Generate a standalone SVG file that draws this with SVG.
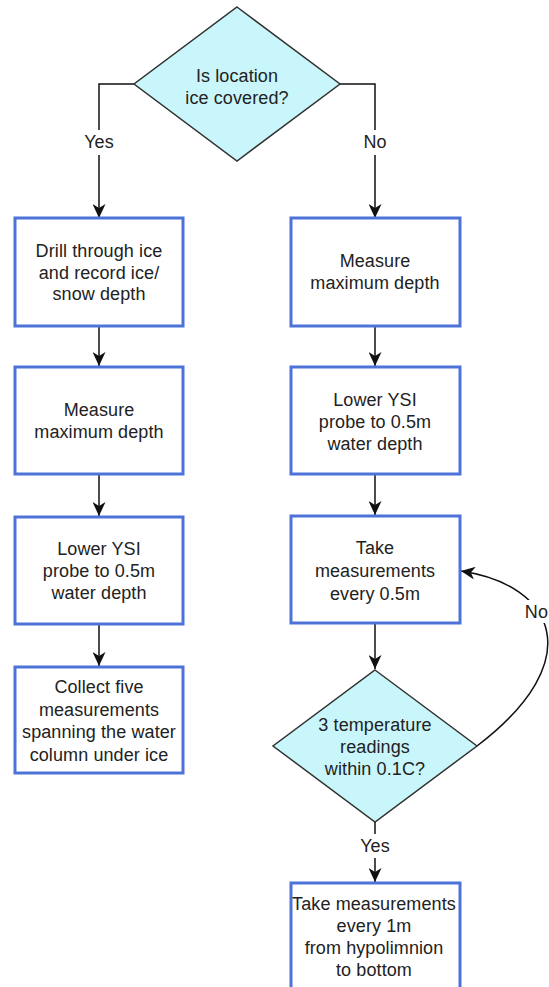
<svg xmlns="http://www.w3.org/2000/svg" width="549" height="987" viewBox="0 0 549 987">
<style>
.box{fill:#ffffff;stroke:#4d72d8;stroke-width:3}
.dec{fill:#c9f6fb;stroke:#333333;stroke-width:1.5}
.t{font-family:"Liberation Sans",Arial,sans-serif;font-size:18px;fill:#222222;text-anchor:middle;letter-spacing:0.1px}
.c{fill:none;stroke:#111111;stroke-width:1.5}
.lb{fill:#ffffff}
</style>
<defs>
<marker id="ah" viewBox="0 0 14 13" refX="14" refY="6.5" markerWidth="14" markerHeight="13" markerUnits="userSpaceOnUse" orient="auto">
<path d="M0,0 L14,6.5 L0,13 L4,6.5 z" fill="#111111"/>
</marker>
</defs>
<rect width="549" height="987" fill="#ffffff"/>
<g id="connectors">
<path class="c" d="M134,84 H99 V218" marker-end="url(#ah)"/>
<path class="c" d="M340,84 H375 V218" marker-end="url(#ah)"/>
<path class="c" d="M99,326 V366" marker-end="url(#ah)"/>
<path class="c" d="M99,474 V516" marker-end="url(#ah)"/>
<path class="c" d="M99,624 V666" marker-end="url(#ah)"/>
<path class="c" d="M375,326 V366" marker-end="url(#ah)"/>
<path class="c" d="M375,474 V515" marker-end="url(#ah)"/>
<path class="c" d="M375,623 V669" marker-end="url(#ah)"/>
<path class="c" d="M375,822 V882" marker-end="url(#ah)"/>
<path class="c" d="M477,746 C590,660 555,585 461,571" marker-end="url(#ah)"/>
<rect class="lb" x="81" y="130" width="36" height="25"/>
<text class="t" x="99" y="148">Yes</text>
<rect class="lb" x="361" y="130" width="28" height="25"/>
<text class="t" x="375" y="148">No</text>
<rect class="lb" x="357" y="834" width="36" height="24"/>
<text class="t" x="375" y="852">Yes</text>
<rect class="lb" x="524" y="600" width="25" height="23"/>
<text class="t" x="548" y="618" style="text-anchor:end">No</text>
</g>
<g id="d1">
<polygon class="dec" points="237,7 340,84 237,161 134,84"/>
<text class="t" x="237" y="82">Is location</text>
<text class="t" x="237" y="104">ice covered?</text>
</g>
<g id="l1">
<rect class="box" x="15" y="218" width="168" height="108"/>
<text class="t" x="99" y="257">Drill through ice</text>
<text class="t" x="99" y="279">and record ice/</text>
<text class="t" x="99" y="300">snow depth</text>
</g>
<g id="l2">
<rect class="box" x="15" y="367" width="168" height="107"/>
<text class="t" x="99" y="416">Measure</text>
<text class="t" x="99" y="438">maximum depth</text>
</g>
<g id="l3">
<rect class="box" x="15" y="517" width="168" height="107"/>
<text class="t" x="99" y="555">Lower YSI</text>
<text class="t" x="99" y="577">probe to 0.5m</text>
<text class="t" x="99" y="599">water depth</text>
</g>
<g id="l4">
<rect class="box" x="15" y="667" width="168" height="106"/>
<text class="t" x="99" y="693">Collect five</text>
<text class="t" x="99" y="716">measurements</text>
<text class="t" x="99" y="738">spanning the water</text>
<text class="t" x="99" y="761">column under ice</text>
</g>
<g id="r1">
<rect class="box" x="291" y="218" width="169" height="108"/>
<text class="t" x="375" y="267">Measure</text>
<text class="t" x="375" y="289">maximum depth</text>
</g>
<g id="r2">
<rect class="box" x="291" y="367" width="169" height="107"/>
<text class="t" x="375" y="406">Lower YSI</text>
<text class="t" x="375" y="428">probe to 0.5m</text>
<text class="t" x="375" y="450">water depth</text>
</g>
<g id="r3">
<rect class="box" x="291" y="516" width="169" height="107"/>
<text class="t" x="375" y="554">Take</text>
<text class="t" x="375" y="577">measurements</text>
<text class="t" x="375" y="600">every 0.5m</text>
</g>
<g id="d2">
<polygon class="dec" points="375,670 477,746 375,822 273,746"/>
<text class="t" x="375" y="731">3 temperature</text>
<text class="t" x="375" y="753">readings</text>
<text class="t" x="375" y="775">within 0.1C?</text>
</g>
<g id="r4">
<rect class="box" x="291" y="883" width="169" height="110"/>
<text class="t" x="374" y="910">Take measurements</text>
<text class="t" x="374" y="932">every 1m</text>
<text class="t" x="374" y="954">from hypolimnion</text>
<text class="t" x="374" y="976">to bottom</text>
</g>
</svg>
